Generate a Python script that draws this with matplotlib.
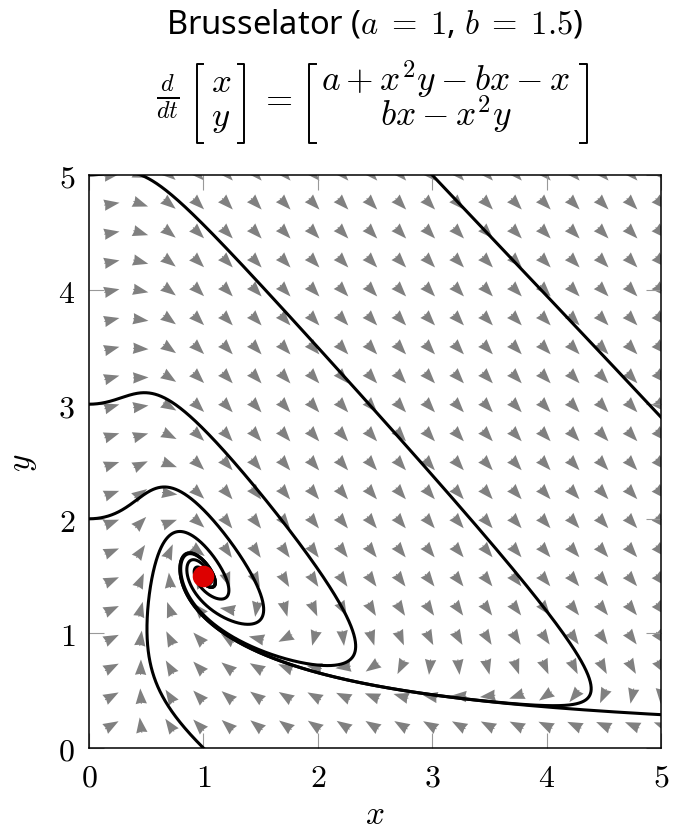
import numpy as np
import matplotlib.pyplot as plt
from matplotlib.lines import Line2D

plt.rcParams['mathtext.fontset'] = 'cm'

# model parameters (from the title)
a = 1.0
b = 1.5

# starting points of the drawn trajectories
starts_x = [0.0, 3.0, 0.0, 0.0, 1.0]
starts_y = [5.0, 5.0, 3.0, 2.0, 0.0]

# arrow grid
grid_x = np.linspace(0.2, 5, 20)
grid_y = np.linspace(0.2, 5, 20)

ticks = [0, 1, 2, 3, 4, 5]
tick_labels = ['$0$', '$1$', '$2$', '$3$', '$4$', '$5$']


def field(x, y):
    dx = a + x**2 * y - b * x - x
    dy = b * x - x**2 * y
    return dx, dy


def integrate(x0, y0, dt=0.002, t_end=40.0):
    x = np.array(x0, dtype=float)
    y = np.array(y0, dtype=float)
    xs, ys = [x.copy()], [y.copy()]
    for _ in range(int(t_end / dt)):
        k1x, k1y = field(x, y)
        k2x, k2y = field(x + dt / 2 * k1x, y + dt / 2 * k1y)
        k3x, k3y = field(x + dt / 2 * k2x, y + dt / 2 * k2y)
        k4x, k4y = field(x + dt * k3x, y + dt * k3y)
        x = x + dt / 6 * (k1x + 2 * k2x + 2 * k3x + k4x)
        y = y + dt / 6 * (k1y + 2 * k2y + 2 * k3y + k4y)
        xs.append(x.copy())
        ys.append(y.copy())
    return np.array(xs), np.array(ys)


W, H = 683, 837
fig = plt.figure(figsize=(W / 100, H / 100), dpi=100)
ax = fig.add_axes([89 / W, (H - 749) / H, 572 / W, 573 / H])

# direction field, drawn as arrow heads only
X, Y = np.meshgrid(grid_x, grid_y)
U, V = field(X, Y)
norm = np.hypot(U, V)
w = 0.009
L = 15 * w
ax.quiver(X, Y, U / norm * L, V / norm * L, angles='xy', scale_units='xy', scale=1,
          units='xy', width=w, headwidth=11, headlength=15, headaxislength=14,
          minshaft=0.01, pivot='middle', color='#808080', zorder=1)

# trajectories
tx, ty = integrate(starts_x, starts_y)
for i in range(len(starts_x)):
    ax.plot(tx[:, i], ty[:, i], color='black', lw=2.2, zorder=2)

# fixed point
ax.plot(a, b / a, 'o', ms=14.5, color='#dd0000', zorder=3)

ax.set_xlim(0, 5)
ax.set_ylim(0, 5)
ax.set_xticks(ticks)
ax.set_yticks(ticks)
ax.set_xticklabels(tick_labels, fontsize=23)
ax.set_yticklabels(tick_labels, fontsize=23)
ax.tick_params(direction='in', top=True, right=True, length=10.5, width=0.8,
               color='#999999', pad=10)
for s in ax.spines.values():
    s.set_linewidth(1.1)

ax.set_xlabel('$x$', fontsize=24)
ax.xaxis.set_label_coords(0.5, -0.115)
ax.xaxis.label.set_verticalalignment('center')
ax.set_ylabel('$y$', fontsize=24)
ax.yaxis.set_label_coords(-0.116, 0.5)
ax.yaxis.label.set_verticalalignment('center')


def fx(px):
    return px / W


def fy(py):
    return 1 - py / H


# title lines
fig.text(fx(375), fy(33), r'Brusselator ($a\;=\;1$, $b\;=\;1.5$)', family='Noto Sans',
         fontsize=23.5, ha='center', va='baseline')
fig.text(fx(168), fy(97), r'$\frac{d}{dt}$', fontsize=25, ha='center', va='center')
fig.text(fx(221), fy(126), '$x$\n$y$', fontsize=25, ha='center', va='baseline',
         multialignment='center', linespacing=1.0)
fig.text(fx(276), fy(98), '$=$', fontsize=25, ha='center', va='center')
fig.text(fx(446), fy(126), '$a + x^2y - bx - x$\n$bx - x^2y$', fontsize=25.5,
         ha='center', va='baseline', multialignment='center', linespacing=0.8)

top, bot = 65, 144
for xv, serif in [(197, 6), (244, -6), (309, 7), (587, -7)]:
    fig.add_artist(Line2D([fx(xv + serif), fx(xv), fx(xv), fx(xv + serif)],
                          [fy(top), fy(top), fy(bot), fy(bot)],
                          color='black', lw=1.4, transform=fig.transFigure))

fig.savefig('out.png', dpi=100)
